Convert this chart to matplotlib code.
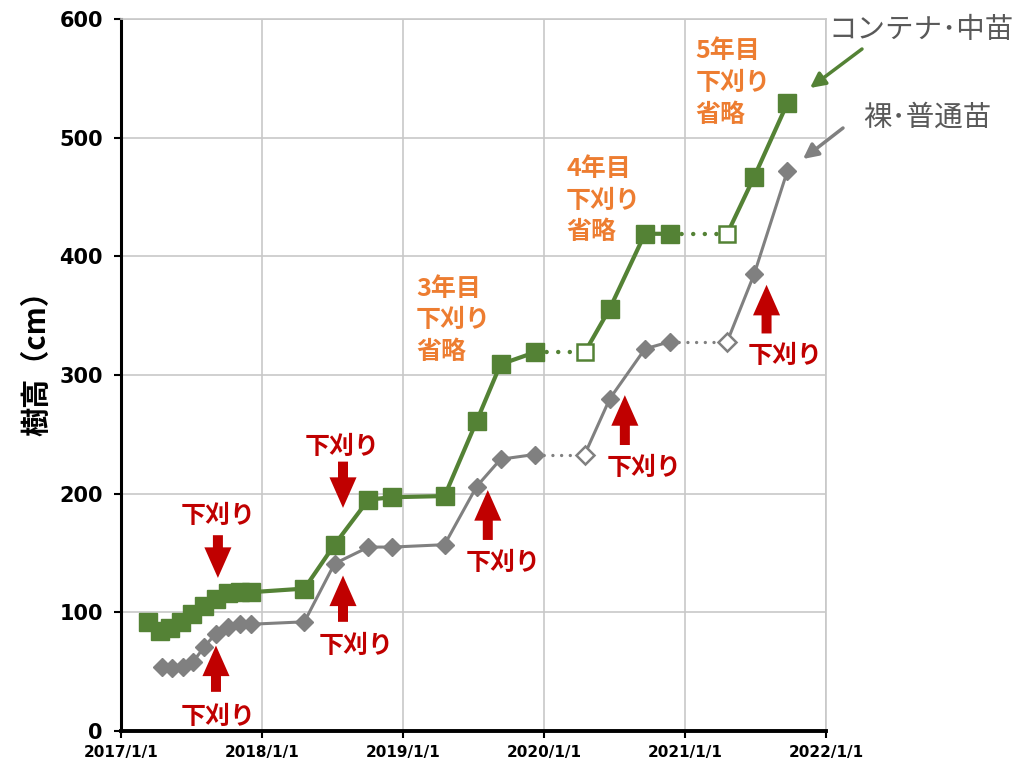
import numpy as np
import matplotlib
matplotlib.use("Agg")
import matplotlib.pyplot as plt
import matplotlib.dates as mdates

plt.rcParams['font.family'] = ['Noto Sans CJK JP', 'DejaVu Sans']

# コンテナ・中苗
dates_container = ["2017-03-12", "2017-04-11", "2017-05-08", "2017-06-05", "2017-07-05",
                   "2017-08-05", "2017-09-03", "2017-10-04", "2017-11-04", "2017-12-05",
                   "2018-04-21", "2018-07-08", "2018-10-04", "2018-12-05",
                   "2019-04-19", "2019-07-11", "2019-09-11", "2019-12-08",
                   "2020-04-16", "2020-06-20", "2020-09-19", "2020-11-22",
                   "2021-04-20", "2021-06-29", "2021-09-23"]
height_container = [92, 84, 87, 92, 99, 105, 111, 116, 117, 117,
                    120, 157, 195, 197,
                    198, 261, 309, 319,
                    319, 356, 419, 419,
                    419, 467, 529]
# hollow markers: carried-over values in seasons without weeding
open_container = [False] * 18 + [True] + [False] * 3 + [True] + [False] * 2

# 裸・普通苗
dates_bare = ["2017-04-18", "2017-05-14", "2017-06-10", "2017-07-06", "2017-08-05",
              "2017-09-03", "2017-10-04", "2017-11-04", "2017-12-05",
              "2018-04-21", "2018-07-08", "2018-10-04", "2018-12-05",
              "2019-04-19", "2019-07-11", "2019-09-11", "2019-12-08",
              "2020-04-16", "2020-06-20", "2020-09-19", "2020-11-22",
              "2021-04-20", "2021-06-29", "2021-09-23"]
height_bare = [54, 53, 54, 58, 71, 82, 88, 90, 90,
               92, 141, 155, 155,
               157, 206, 229, 233,
               233, 280, 322, 328,
               328, 385, 472]
open_bare = [False] * 17 + [True] + [False] * 3 + [True] + [False] * 2

year_ticks = ["2017-01-01", "2018-01-01", "2019-01-01", "2020-01-01", "2021-01-01", "2022-01-01"]
year_labels = ["2017/1/1", "2018/1/1", "2019/1/1", "2020/1/1", "2021/1/1", "2022/1/1"]
y_ticks = [0, 100, 200, 300, 400, 500, 600]

# weeding arrows: (date, tail value, head value)
weed_arrows = [("2017-09-09", 165, 129), ("2017-09-04", 33, 72),
               ("2018-07-30", 227, 188), ("2018-07-30", 92, 131),
               ("2019-08-09", 161, 203), ("2020-07-29", 241, 283),
               ("2021-07-31", 335, 376)]
weed_labels = [("2017-09-10", 181), ("2017-09-10", 12), ("2018-07-27", 239),
               ("2018-09-01", 72), ("2019-09-19", 142), ("2020-09-16", 222),
               ("2021-09-16", 316)]
skip_labels = [("2019-02-04", 346, "3年目\n下刈り\n省略"),
               ("2020-02-28", 447, "4年目\n下刈り\n省略"),
               ("2021-01-28", 546, "5年目\n下刈り\n省略")]

GREEN = "#548235"
GRAY = "#808080"
RED = "#C00000"
ORANGE = "#ED7D31"


def d(s):
    return mdates.date2num(np.datetime64(s))


fig = plt.figure(figsize=(10.18, 7.66), dpi=100)
ax = fig.add_axes([121 / 1018, 35 / 766, 705 / 1018, 712 / 766])


def draw_series(dates, vals, is_open, color, lw, marker, ms, dot_lw):
    x = np.array([d(s) for s in dates])
    y = np.array(vals, dtype=float)
    # build runs of solid and dotted segments
    i = 0
    n = len(x)
    while i < n - 1:
        dotted = is_open[i + 1]
        j = i + 1
        while j < n - 1 and is_open[j + 1] == dotted and not dotted:
            j += 1
        if dotted:
            ax.plot(x[i:j + 1], y[i:j + 1], color=color, lw=dot_lw,
                    linestyle=(0, (0.01, 2.6)), dash_capstyle='round', zorder=3)
        else:
            ax.plot(x[i:j + 1], y[i:j + 1], color=color, lw=lw,
                    solid_joinstyle='round', zorder=3)
        i = j
    op = np.array(is_open)
    ax.plot(x[~op], y[~op], linestyle='none', marker=marker, ms=ms,
            mfc=color, mec=color, mew=1, zorder=4)
    ax.plot(x[op], y[op], linestyle='none', marker=marker, ms=ms * 0.92,
            mfc='white', mec=color, mew=1.8, zorder=4)


draw_series(dates_container, height_container, open_container, GREEN, 3.0, 's', 12.5, 3.2)
draw_series(dates_bare, height_bare, open_bare, GRAY, 2.2, 'D', 9.5, 2.4)

ax.set_xlim(d(year_ticks[0]), d(year_ticks[-1]))
ax.set_ylim(0, 600)
ax.set_xticks([d(s) for s in year_ticks])
ax.set_xticklabels(year_labels, fontsize=11, fontweight='bold', family=['DejaVu Sans'])
ax.set_yticks(y_ticks)
ax.set_yticklabels([str(v) for v in y_ticks], fontsize=15, fontweight='bold',
                   family=['DejaVu Sans'])
ax.grid(True, color='#C8C8C8', lw=1.2, zorder=0)
ax.set_axisbelow(True)
for side in ['top', 'right']:
    ax.spines[side].set_color('#C8C8C8')
    ax.spines[side].set_linewidth(1.2)
ax.spines['left'].set_linewidth(2.2)
ax.spines['bottom'].set_linewidth(2.8)
ax.tick_params(axis='y', direction='out', length=5, width=1.5, pad=8)
ax.tick_params(axis='x', direction='out', length=5, width=1.5, pad=5)
ax.set_ylabel("樹高（cm）", fontsize=21, fontweight='bold')
ax.yaxis.set_label_coords(-0.099, 0.527)

for xs, y0, y1 in weed_arrows:
    ax.annotate('', xy=(d(xs), y1), xytext=(d(xs), y0),
                arrowprops=dict(arrowstyle='simple,head_length=2.2,head_width=1.95,tail_width=0.72',
                                fc=RED, ec='none', mutation_scale=10,
                                shrinkA=0, shrinkB=0), zorder=5)
for xs, yv in weed_labels:
    ax.text(d(xs), yv, "下刈り", color=RED, fontsize=18, fontweight='bold',
            ha='center', va='center', zorder=6)
for xs, yv, txt in skip_labels:
    ax.text(d(xs), yv, txt, color=ORANGE, fontsize=18, fontweight='bold',
            ha='left', va='center', linespacing=1.4, zorder=6)

# series labels with pointers
fig.text(1014 / 1018, 1 - 30 / 766, "コンテナ･中苗", color='#595959', fontsize=20.5,
         ha='right', va='center')
fig.text(991 / 1018, 1 - 118 / 766, "裸･普通苗", color='#595959', fontsize=20.5,
         ha='right', va='center')
ax.annotate('', xy=(810, 766 - 88), xytext=(862, 766 - 49), xycoords='figure pixels',
            textcoords='figure pixels',
            arrowprops=dict(arrowstyle='-|>,head_length=0.9,head_width=0.45', color=GREEN,
                            lw=2.5, shrinkA=0, shrinkB=0), annotation_clip=False)
ax.annotate('', xy=(803, 766 - 159), xytext=(843, 766 - 128), xycoords='figure pixels',
            textcoords='figure pixels',
            arrowprops=dict(arrowstyle='-|>,head_length=0.9,head_width=0.45', color=GRAY,
                            lw=2.5, shrinkA=0, shrinkB=0), annotation_clip=False)

fig.savefig("out.png", dpi=100)
